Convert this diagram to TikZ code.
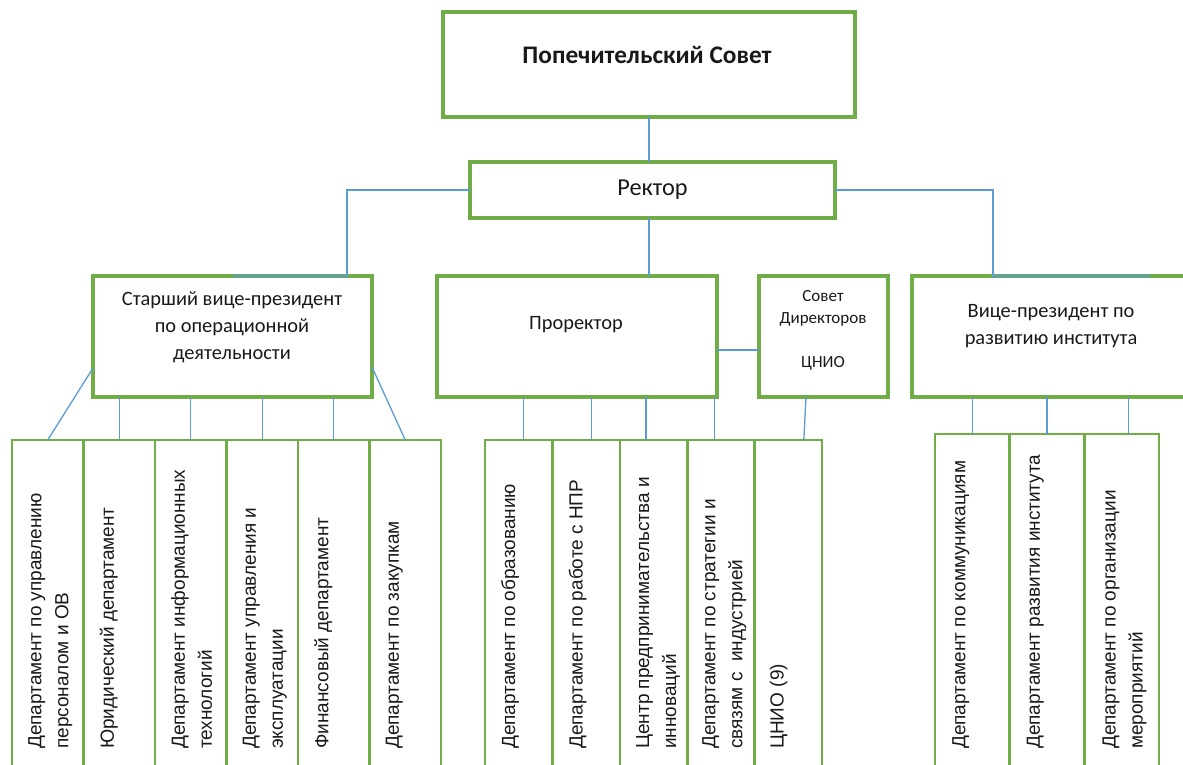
\documentclass[tikz,border=0pt]{standalone}
\usepackage{fontspec}
\setmainfont{Carlito}
\newfontfamily\arialf{Liberation Sans}
\usetikzlibrary{positioning,calc}
\definecolor{boxGreen}{RGB}{112,173,71}
\definecolor{linkBlue}{RGB}{91,155,213}
\definecolor{ink}{RGB}{25,25,25}

\begin{document}
\begin{tikzpicture}[
  x=1pt, y=-1pt,
  box/.style={draw=boxGreen, line width=4pt, fill=white, anchor=north west, outer sep=0pt, inner sep=0pt},
  col/.style={draw=boxGreen, line width=2.6pt, fill=white, anchor=north west, outer sep=0pt, inner sep=0pt, minimum height=345pt},
  lbl/.style={font=\fontsize{20.4}{27}\selectfont, align=center, text=ink, inner sep=0pt},
  vlbl/.style={rotate=90, anchor=north west, align=left, font=\arialf\fontsize{19}{27}\selectfont, text=ink, inner sep=0pt},
  link/.style={draw=linkBlue, line width=1.3pt},
]
\useasboundingbox (0,0) rectangle (1183,765);
\clip (0,0) rectangle (1183,765);
\path[fill=white] (0,0) rectangle (1183,765);

% ---- board + rector ----
\node[box, minimum width=412pt, minimum height=105pt] (board) at (443,12) {};
\node[lbl, font=\bfseries\fontsize{25.3}{30}\selectfont] (boardT) at (647,55) {Попечительский Совет};

\node[box, line width=3.5pt, minimum width=365pt, minimum height=56pt, font=\fontsize{24.3}{28}\selectfont, text=ink] (rector) at (470,162) {Ректор};

% ---- second level ----
\node[box, minimum width=279pt, minimum height=121pt] (svp) at (93,276) {};
\node[lbl] (svpT) at (232,327) {Старший вице-президент\\по операционной\\деятельности};

\node[box, minimum width=280pt, minimum height=121pt] (pro) at (437,276) {};
\node[lbl] (proT) at (576,325) {Проректор};

\node[box, minimum width=129pt, minimum height=121pt] (snd) at (759,276) {};
\node[lbl, font=\fontsize{17}{22}\selectfont] (sndT) at (823,330.5) {Совет\\Директоров\\[22pt]ЦНИО};

\node[box, minimum width=278pt, minimum height=121pt] (vp) at (912,276) {};
\node[lbl] (vpT) at (1051,326.5) {Вице-президент по\\развитию института};

% ---- departments under the senior vice-president ----
\node[col, minimum width=71.5pt] (d11) at (12,440) {};
\node[col, minimum width=71.5pt, right=0pt of d11] (d12) {};
\node[col, minimum width=71.5pt, right=0pt of d12] (d13) {};
\node[col, minimum width=71.5pt, right=0pt of d13] (d14) {};
\node[col, minimum width=71.5pt, right=0pt of d14] (d15) {};
\node[col, minimum width=71.5pt, right=0pt of d15] (d16) {};

\node[vlbl] (d11T) at ($(d11.north west)+(16,309)$) {Департамент по управлению\\персоналом и ОВ};
\node[vlbl] (d12T) at ($(d12.north west)+(16,309)$) {Юридический департамент};
\node[vlbl] (d13T) at ($(d13.north west)+(16,309)$) {Департамент информационных\\технологий};
\node[vlbl] (d14T) at ($(d14.north west)+(16,309)$) {Департамент управления и\\эксплуатации};
\node[vlbl] (d15T) at ($(d15.north west)+(16,309)$) {Финансовый департамент};
\node[vlbl] (d16T) at ($(d16.north west)+(16,309)$) {Департамент по закупкам};

% ---- departments under the prorector ----
\node[col, minimum width=67.4pt] (d21) at (485,440) {};
\node[col, minimum width=67.4pt, right=0pt of d21] (d22) {};
\node[col, minimum width=67.4pt, right=0pt of d22] (d23) {};
\node[col, minimum width=67.4pt, right=0pt of d23] (d24) {};
\node[col, minimum width=67.4pt, right=0pt of d24] (d25) {};

\node[vlbl] (d21T) at ($(d21.north west)+(16,309)$) {Департамент по образованию};
\node[vlbl] (d22T) at ($(d22.north west)+(16,309)$) {Департамент по работе с НПР};
\node[vlbl] (d23T) at ($(d23.north west)+(16,309)$) {Центр предпринимательства и\\инноваций};
\node[vlbl] (d24T) at ($(d24.north west)+(15,309)$) {Департамент по стратегии и\\связям с\ \ индустрией};
\node[vlbl] (d25T) at ($(d25.north west)+(15,309)$) {ЦНИО (9)};

% ---- departments under the vice-president ----
\node[col, minimum width=74.7pt] (d31) at (935,434) {};
\node[col, minimum width=74.7pt, right=0pt of d31] (d32) {};
\node[col, minimum width=74.7pt, right=0pt of d32] (d33) {};

\node[vlbl] (d31T) at ($(d31.north west)+(17,315)$) {Департамент по коммуникациям};
\node[vlbl] (d32T) at ($(d32.north west)+(17,315)$) {Департамент развития института};
\node[vlbl] (d33T) at ($(d33.north west)+(18,315)$) {Департамент по организации\\мероприятий};

% ---- links from the top ----
\coordinate (svpJ) at (347,276);
\coordinate (vpJ) at (993,276);
\coordinate (vpE) at (1150,276);
\draw[link] (board.south) -- (board.south |- rector.north);
\draw[link] (board.south |- rector.south) -- (board.south |- pro.north);
\draw[link] (rector.west) -| (svpJ) -- (svp.north);
\draw[link] (rector.east) -| (vpJ) -- (vpE);

\coordinate (pe) at ($(pro.east)+(0,13.5)$);
\draw[link] (pe) -- (pe -| snd.west);

% ---- links to the departments ----
\coordinate (svpL) at ($(svp.north west)+(0,92)$);
\coordinate (svpR) at ($(svp.north east)+(0,91)$);
\draw[link] (svpL) -- (d11.north);
\draw[link] (d12.north) -- (d12.north |- svp.south);
\draw[link] (d13.north) -- (d13.north |- svp.south);
\draw[link] (d14.north) -- (d14.north |- svp.south);
\draw[link] (d15.north) -- (d15.north |- svp.south);
\draw[link] (svpR) -- (d16.north);

\coordinate (c21) at ($(d21.north)+(4.5,0)$);
\coordinate (c22) at ($(d22.north)+(5.5,0)$);
\coordinate (c23) at ($(d23.north)+(-7.5,0)$);
\coordinate (c24) at ($(d24.north)+(-6.5,0)$);
\draw[link] (c21) -- (c21 |- pro.south);
\draw[link] (c22) -- (c22 |- pro.south);
\draw[link] (c23) -- (c23 |- pro.south);
\draw[link] (c24) -- (c24 |- pro.south);
\draw[link] ($(snd.south)+(-17.5,0)$) -- ($(d25.north)+(15.5,0)$);

\coordinate (c33) at ($(d33.north)+(6.5,0)$);
\draw[link] (d31.north) -- (d31.north |- vp.south);
\draw[link] (d32.north) -- (d32.north |- vp.south);
\draw[link] (c33) -- (c33 |- vp.south);

\end{tikzpicture}
\end{document}
